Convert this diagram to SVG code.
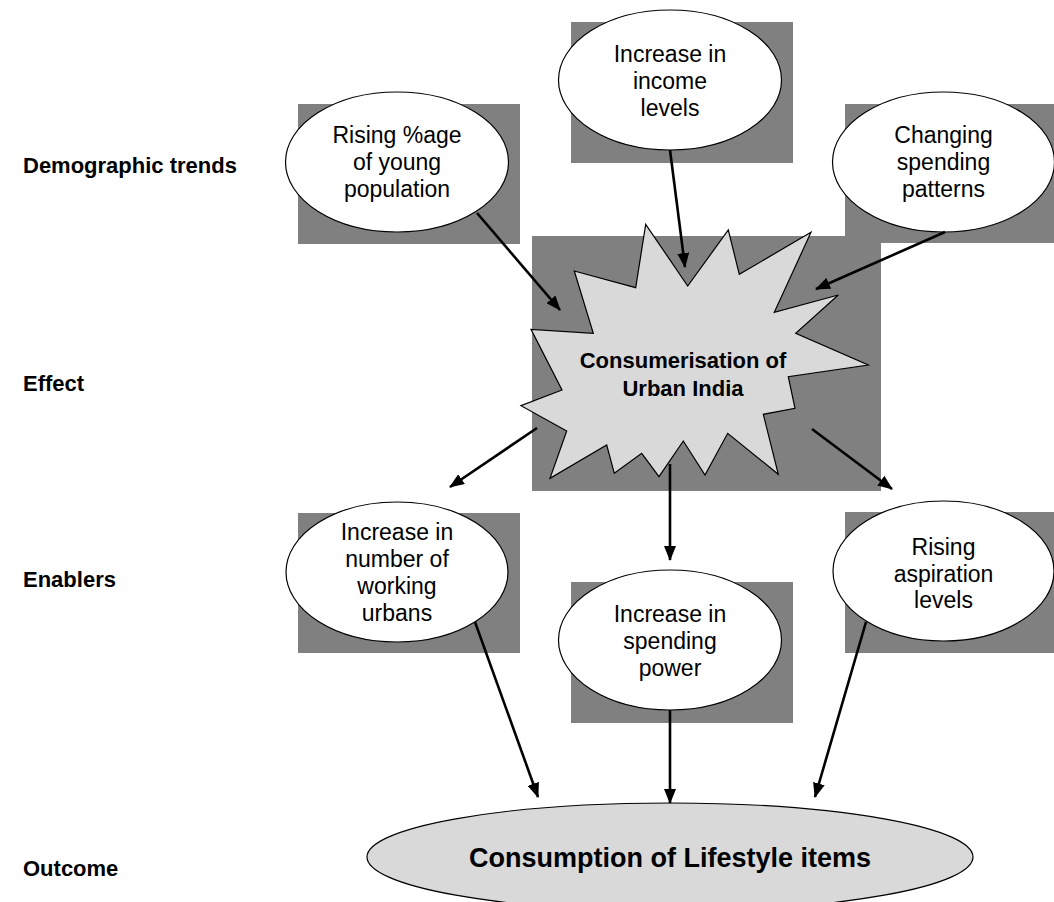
<svg xmlns="http://www.w3.org/2000/svg" width="1054" height="902" viewBox="0 0 1054 902">
<defs>
<style>
.sh{fill:#808080;stroke:none}
.el{fill:#ffffff;stroke:#000;stroke-width:1.2}
.gr{fill:#d9d9d9;stroke:#000;stroke-width:1.2}
.t{font-family:"Liberation Sans",Arial,sans-serif;font-size:23px;fill:#000;text-anchor:middle}
.tb{font-family:"Liberation Sans",Arial,sans-serif;font-weight:bold;fill:#000}
.lb{font-family:"Liberation Sans",Arial,sans-serif;font-weight:bold;font-size:22px;fill:#000}
.ar{stroke:#000;stroke-width:2.6;fill:none;marker-end:url(#ah)}
</style>
<marker id="ah" markerUnits="userSpaceOnUse" markerWidth="15" markerHeight="12" refX="14" refY="6" orient="auto">
<path d="M0,0 L15,6 L0,12 z" fill="#000"/>
</marker>
</defs>
<rect width="1054" height="902" fill="#fff"/>

<g id="labels">
<text class="lb" x="23" y="173">Demographic trends</text>
<text class="lb" x="23" y="391">Effect</text>
<text class="lb" x="23" y="587">Enablers</text>
<text class="lb" x="23" y="876">Outcome</text>
</g>

<g id="rising-young">
<rect class="sh" x="298" y="104" width="222" height="140"/>
<ellipse class="el" cx="397" cy="162" rx="111.5" ry="70"/>
<text class="t"><tspan x="397" y="143">Rising %age</tspan><tspan x="397" y="170">of young</tspan><tspan x="397" y="197">population</tspan></text>
</g>

<g id="income-levels">
<rect class="sh" x="571" y="22" width="222" height="141"/>
<ellipse class="el" cx="670" cy="80" rx="111.5" ry="70"/>
<text class="t"><tspan x="670" y="62">Increase in</tspan><tspan x="670" y="89">income</tspan><tspan x="670" y="116">levels</tspan></text>
</g>

<g id="spending-patterns">
<rect class="sh" x="845" y="104" width="222" height="139"/>
<ellipse class="el" cx="943.5" cy="162" rx="111" ry="70"/>
<text class="t"><tspan x="943.5" y="143">Changing</tspan><tspan x="943.5" y="170">spending</tspan><tspan x="943.5" y="197">patterns</tspan></text>
</g>

<g id="consumerisation">
<rect class="sh" x="532" y="236" width="349" height="255"/>
<polygon class="gr" points="645.7,224.3 687.7,286 728.3,230 739.3,274.3 811,232.3 774.3,312.3 838.3,295 795.7,333.3 868.3,365 788.3,376.7 795,408.3 763.3,414.3 778.3,474.3 727.7,433.3 705,475 683.3,441 659,476.7 641.7,453.3 614.3,473.3 606.7,445 550,478.3 566.7,431 521,405.7 562,390 531,329.3 593.3,333.3 574.3,271 635.7,287.7"/>
<text class="tb" font-size="22" text-anchor="middle"><tspan x="683" y="368">Consumerisation of</tspan><tspan x="683" y="396">Urban India</tspan></text>
</g>

<g id="working-urbans">
<rect class="sh" x="298" y="513" width="222" height="140"/>
<ellipse class="el" cx="397" cy="572" rx="111" ry="70"/>
<text class="t"><tspan x="397" y="540">Increase in</tspan><tspan x="397" y="567">number of</tspan><tspan x="397" y="594">working</tspan><tspan x="397" y="621">urbans</tspan></text>
</g>

<g id="spending-power">
<rect class="sh" x="571" y="582" width="222" height="141"/>
<ellipse class="el" cx="670" cy="640" rx="111.5" ry="70"/>
<text class="t"><tspan x="670" y="622">Increase in</tspan><tspan x="670" y="649">spending</tspan><tspan x="670" y="676">power</tspan></text>
</g>

<g id="aspiration-levels">
<rect class="sh" x="845" y="512" width="222" height="141"/>
<ellipse class="el" cx="943.5" cy="571" rx="110.5" ry="70"/>
<text class="t"><tspan x="943.5" y="555">Rising</tspan><tspan x="943.5" y="582">aspiration</tspan><tspan x="943.5" y="608">levels</tspan></text>
</g>

<g id="lifestyle-consumption">
<ellipse class="gr" cx="670" cy="857" rx="303" ry="54"/>
<text class="tb" font-size="27" text-anchor="middle" x="670" y="867">Consumption of Lifestyle items</text>
</g>

<g id="connectors">
<line class="ar" x1="477" y1="213" x2="560" y2="310"/>
<line class="ar" x1="670" y1="150" x2="685" y2="267"/>
<line class="ar" x1="945" y1="232" x2="816" y2="289"/>
<line class="ar" x1="537" y1="428" x2="450" y2="487"/>
<line class="ar" x1="670" y1="464" x2="670" y2="560"/>
<line class="ar" x1="812" y1="429" x2="892" y2="489"/>
<line class="ar" x1="475" y1="622" x2="538" y2="797"/>
<line class="ar" x1="670" y1="710" x2="670" y2="803"/>
<line class="ar" x1="866" y1="622" x2="815" y2="797"/>
</g>
</svg>
